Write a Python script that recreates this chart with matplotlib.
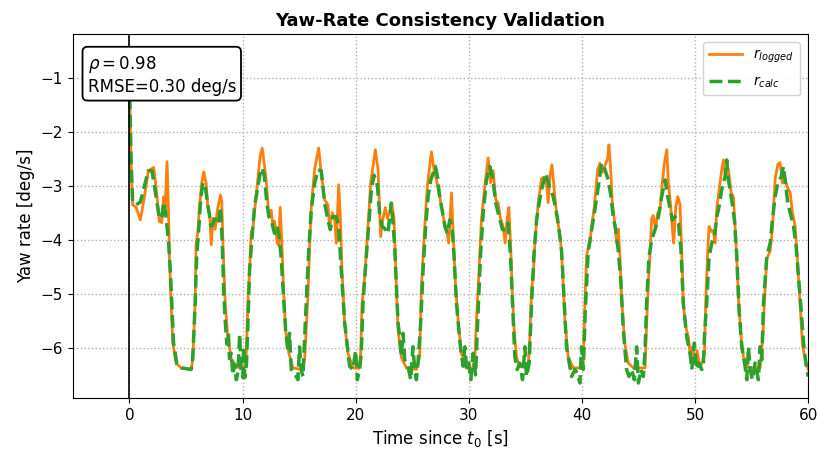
import matplotlib
matplotlib.use("Agg")
import matplotlib.pyplot as plt

# ---- data ----
t_logged = [0.0, 0.15, 0.29, 0.6, 0.97, 1.33, 1.68, 2.15, 2.36, 2.65, 2.86, 3.04, 3.16, 3.33, 3.45, 3.54,
            3.69, 3.83, 4.13, 4.57, 5.46, 5.6, 5.81, 5.9, 6.05, 6.19, 6.4, 6.58, 6.78, 6.93, 7.11, 7.23,
            7.4, 7.58, 7.82, 8.05, 8.17, 8.29, 8.47, 8.7, 9.0, 9.44, 10.03, 10.3,
            10.47, 10.62, 10.77, 10.91, 11.15, 11.36, 11.56, 11.74, 11.9, 12.09, 12.33, 12.54, 12.68, 12.8,
            12.92, 13.07, 13.21, 13.33, 13.48, 13.63, 13.81, 14.1, 14.45, 15.19, 15.49, 15.78, 15.93, 16.08,
            16.37, 16.73, 16.96, 17.26, 17.55, 17.7, 17.94, 18.14, 18.29, 18.5, 18.64, 18.79, 19.03, 19.32,
            19.76, 20.3, 20.45, 20.56, 20.8, 21.09, 21.33, 21.74, 21.98, 22.21, 22.42, 22.63, 22.8, 23.01,
            23.16, 23.39, 23.6, 23.75, 24.04, 24.48, 25.37, 25.66, 25.81, 25.96, 26.11, 26.34, 26.7, 26.93,
            27.14, 27.43, 27.73, 28.02, 28.23, 28.47, 28.64, 28.82, 29.06, 29.35, 29.8, 30.3, 30.53, 30.68,
            30.91, 31.12, 31.42, 31.71, 31.92, 32.15, 32.39, 32.59, 32.8, 33.04, 33.21, 33.39, 33.54, 33.69,
            33.83, 34.01, 34.22, 34.51, 35.25, 35.4, 35.55, 35.69, 35.84, 36.14, 36.43, 36.64, 36.87, 37.02,
            37.17, 37.35, 37.52, 37.7, 37.9, 38.11, 38.29, 38.5, 38.79, 39.23, 39.97, 40.12, 40.27, 40.41,
            40.5, 40.71, 40.86, 41.09, 41.39, 41.59, 41.8, 42.04, 42.27, 42.39, 42.57, 42.68, 42.86, 43.07,
            43.21, 43.36, 43.51, 43.66, 43.81, 44.1, 44.54, 45.58, 45.72, 45.87, 46.02, 46.17, 46.31, 46.52,
            46.7, 46.9, 47.11, 47.29, 47.5, 47.64, 47.82, 48.0, 48.11, 48.29, 48.47, 48.67, 48.82, 48.96,
            49.17, 49.41, 49.59, 49.76, 50.0, 50.18, 50.35, 50.59, 50.83, 50.94, 51.12, 51.24, 51.48, 51.62,
            51.77, 51.92, 52.21, 52.36, 52.51, 52.71, 52.95, 53.19, 53.39, 53.54, 53.69, 53.83, 54.07, 54.28,
            54.72, 55.75, 55.99, 56.19, 56.34, 56.64, 56.84, 57.08, 57.32, 57.52, 57.73, 57.9, 58.11, 58.41,
            58.61, 58.85, 59.09, 59.29, 59.5, 59.73, 60.0]
r_logged = [-1.0, -2.6, -3.35, -3.4, -3.63, -3.2, -2.72, -2.66, -3.02, -3.66, -3.68, -3.2, -3.4, -2.55, -3.39, -4.31,
            -5.17, -5.9, -6.28, -6.37, -6.4, -6.22, -5.17, -4.06, -3.87, -3.4, -2.94, -2.74, -2.95, -3.39, -3.55, -4.09,
            -3.6, -3.8, -3.4, -3.17, -3.3, -4.19, -5.17, -5.8, -6.2, -6.35, -6.38, -6.3,
            -5.19, -4.6, -3.85, -3.8, -3.3, -2.88, -2.45, -2.30, -2.55, -2.89, -3.57, -3.45, -3.76, -3.65,
            -3.76, -4.06, -4.1, -3.4, -4.06, -4.93, -5.67, -6.1, -6.37, -6.4, -6.22, -5.05, -4.13, -3.39,
            -2.70, -2.30, -2.76, -3.26, -3.35, -3.76, -3.5, -3.6, -4.06, -2.98, -3.55, -4.56, -5.54, -6.1,
            -6.37, -6.38, -6.1, -5.19, -4.68, -3.76, -2.94, -2.33, -2.7, -3.94, -3.6, -3.4, -3.6, -3.5,
            -3.31, -3.6, -4.86, -5.67, -6.17, -6.37, -6.4, -6.17, -4.9, -4.31, -3.76, -3.0, -2.37, -2.7,
            -2.89, -3.2, -3.57, -3.8, -4.06, -3.13, -4.0, -4.8, -5.5, -6.1, -6.37, -6.4, -6.22, -5.48,
            -4.56, -3.63, -3.0, -2.48, -2.94, -2.72, -3.26, -3.31, -3.6, -3.76, -4.06, -3.6, -3.4, -4.05,
            -4.9, -5.67, -6.17, -6.35, -6.35, -5.8, -4.9, -4.7, -4.06, -3.31, -2.87, -2.84, -2.94, -3.31,
            -2.82, -2.61, -3.0, -3.4, -3.7, -4.0, -4.56, -5.5, -6.17, -6.37, -6.37, -6.22, -5.17, -4.31,
            -4.2, -4.05, -3.75, -3.4, -2.7, -2.58, -2.75, -2.62, -2.5, -2.24, -2.8, -3.3, -3.6, -4.05,
            -3.8, -4.3, -5.1, -5.55, -5.95, -6.28, -6.37, -6.37, -5.55, -4.8, -4.25, -3.6, -3.55, -3.8,
            -3.5, -3.45, -2.94, -2.58, -2.33, -2.94, -3.31, -3.8, -4.06, -3.4, -3.2, -3.35, -4.2, -5.17,
            -5.6, -5.8, -6.17, -5.98, -6.28, -6.05, -6.28, -6.3, -6.1, -5.17, -4.2, -3.75, -3.85, -3.83,
            -4.06, -3.4, -2.94, -2.7, -2.52, -2.82, -2.7, -3.13, -3.2, -3.75, -4.35, -5.05, -5.8, -6.17,
            -6.37, -6.37, -5.8, -4.9, -4.35, -4.2, -3.8, -2.87, -2.6, -2.57, -2.95, -2.82, -3.0, -3.13,
            -3.5, -3.75, -4.5, -5.2, -5.95, -6.2, -6.4]

t_calc = [0.0, 0.15, 0.29, 0.6, 0.97, 1.33, 1.68, 2.0, 2.36, 2.65, 2.86, 3.04, 3.2, 3.45, 3.6, 3.75,
          3.9, 4.2, 4.6, 5.46, 5.6, 5.81, 5.95, 6.1, 6.3, 6.5, 6.7, 6.9, 7.05, 7.2, 7.4, 7.6,
          7.9, 8.05, 8.2, 8.35, 8.5, 8.62, 8.75, 8.85, 9.0, 9.15, 9.3, 9.45, 9.6, 9.75, 9.88, 10.03,
          10.1, 10.2, 10.35, 10.47, 10.62, 10.85, 11.06, 11.36, 11.56, 11.74, 11.94, 12.15, 12.33, 12.54,
          12.68, 12.83, 13.04, 13.21, 13.41, 13.57, 13.81, 14.0, 14.16, 14.31, 14.6, 14.9, 15.04, 15.19,
          15.34, 15.63, 15.85, 16.08, 16.37, 16.67, 16.96, 17.26, 17.55, 17.76, 17.99, 18.29, 18.5, 18.73,
          19.03, 19.17, 19.47, 19.76, 20.0, 20.15, 20.35, 20.5, 20.65, 20.94, 21.15, 21.39, 21.62, 21.92,
          22.12, 22.33, 22.57, 22.86, 23.01, 23.16, 23.3, 23.45, 23.6, 23.75, 23.89, 24.04, 24.19, 24.34,
          24.63, 24.87, 25.07, 25.22, 25.37, 25.51, 25.75, 25.96, 26.17, 26.4, 26.64, 26.84, 27.05, 27.23,
          27.43, 27.64, 27.88, 28.11, 28.32, 28.52, 28.7, 28.91, 29.12, 29.29, 29.5, 29.65, 29.82, 30.0,
          30.18, 30.38, 30.6, 30.83, 31.03, 31.27, 31.56, 31.86, 32.09, 32.39, 32.68, 32.98, 33.27, 33.48,
          33.69, 33.92, 34.07, 34.28, 34.51, 34.75, 34.96, 35.1, 35.34, 35.55, 35.75, 35.99, 36.22, 36.43,
          36.81, 37.11, 37.46, 37.7, 37.9, 38.2, 38.5, 38.64, 38.88, 39.09, 39.38, 39.59, 39.82, 39.97,
          40.12, 40.3, 40.56, 40.86, 41.15, 41.45, 41.74, 42.04, 42.33, 42.57, 42.77, 42.98, 43.21, 43.45,
          43.66, 43.81, 43.95, 44.16, 44.4, 44.63, 44.84, 44.99, 45.22, 45.43, 45.58, 45.72, 45.93, 46.17,
          46.46, 46.76, 47.05, 47.35, 47.58, 47.82, 48.0, 48.23, 48.53, 48.76, 48.96, 49.26, 49.56, 49.71,
          49.94, 50.15, 50.35, 50.59, 50.74, 50.83, 51.03, 51.24, 51.48, 51.71, 51.92, 52.07, 52.36, 52.65,
          52.8, 52.95, 53.24, 53.48, 53.69, 53.89, 54.13, 54.42, 54.57, 54.72, 54.87, 55.07, 55.31, 55.6,
          55.75, 55.9, 56.05, 56.34, 56.64, 56.84, 57.08, 57.32, 57.61, 57.82, 57.96, 58.2, 58.5, 58.7,
          58.91, 59.14, 59.38, 59.59, 59.79, 60.0]
r_calc = [-1.0, -2.5, -3.3, -3.35, -3.3, -3.0, -2.72, -2.72, -3.2, -3.6, -3.6, -3.3, -3.5, -4.0, -4.5, -5.17,
          -5.9, -6.3, -6.37, -6.4, -6.2, -5.2, -4.3, -3.9, -3.25, -2.94, -3.0, -3.3, -3.5, -3.75, -3.7, -3.55,
          -3.65, -3.4, -4.0, -5.0, -5.6, -5.93, -5.72, -6.2, -6.1, -6.5, -6.3, -6.59, -6.45, -5.75, -6.4, -6.55,
          -5.98, -6.55, -6.3, -5.6, -4.56, -3.94, -3.38, -3.01, -2.77, -2.67, -2.83, -3.32, -3.57, -3.63,
          -3.75, -3.88, -3.75, -3.88, -4.31, -4.86, -5.67, -6.04, -5.73, -6.4, -6.47, -6.59, -5.98, -6.4,
          -6.53, -5.17, -4.2, -3.44, -2.96, -2.7, -2.72, -3.32, -3.63, -3.81, -3.57, -3.57, -3.75, -4.56,
          -5.54, -5.79, -6.34, -6.4, -6.05, -6.59, -6.4, -6.1, -5.17, -4.31, -3.75, -3.07, -2.8, -2.99,
          -3.51, -3.75, -3.79, -3.88, -3.57, -3.32, -3.69, -4.12, -4.86, -5.54, -5.79, -6.16, -5.73, -6.22,
          -6.34, -6.59, -5.98, -6.4, -6.59, -6.28, -5.54, -4.56, -3.81, -3.2, -2.89, -2.77, -2.64, -2.83,
          -3.2, -3.44, -3.75, -3.88, -3.63, -3.75, -4.31, -5.17, -5.67, -6.04, -6.34, -5.98, -6.4, -6.28,
          -6.59, -6.1, -6.5, -5.3, -4.31, -3.51, -2.89, -2.64, -2.83, -3.32, -3.57, -3.81, -3.81, -3.69,
          -4.31, -5.42, -6.16, -6.4, -6.28, -6.59, -5.98, -6.53, -6.28, -5.17, -4.31, -3.63, -3.32, -3.07,
          -2.77, -3.01, -3.2, -3.44, -3.69, -4.19, -5.42, -5.98, -6.28, -6.53, -6.4, -6.47, -6.65, -5.98,
          -6.4, -5.3, -4.2, -3.81, -3.44, -3.01, -2.58, -2.7, -2.89, -3.2, -3.57, -3.81, -4.19, -4.8,
          -5.67, -6.04, -6.4, -6.53, -6.4, -6.59, -5.98, -6.65, -6.4, -6.53, -6.04, -5.17, -4.31, -4.0,
          -3.81, -3.57, -3.2, -2.89, -3.2, -3.44, -3.63, -3.57, -3.69, -4.19, -5.17, -5.79, -6.1, -6.4,
          -5.91, -6.4, -6.28, -6.4, -6.28, -5.79, -5.17, -4.31, -4.06, -3.94, -3.57, -3.44, -3.07, -2.83,
          -2.52, -2.89, -3.26, -3.63, -4.31, -5.3, -5.98, -6.34, -6.59, -5.98, -6.4, -6.59, -6.28, -6.59,
          -5.98, -6.22, -5.17, -4.31, -4.06, -3.63, -3.2, -2.95, -2.83, -2.64, -2.89, -3.32, -3.57, -3.75,
          -4.06, -4.68, -5.3, -5.91, -6.28, -6.53]

rho_text = r"$\rho = 0.98$"
rmse_text = "RMSE=0.30 deg/s"
x_ticks = [0, 10, 20, 30, 40, 50, 60]
y_ticks = [-1, -2, -3, -4, -5, -6]

fig = plt.figure(figsize=(8.18, 4.55), dpi=100)
ax = fig.add_axes([0.089, 0.125, 0.899, 0.8])

ax.plot(t_logged, r_logged, color="#ff7f0e", lw=2.0, label=r"$r_{logged}$")
ax.plot(t_calc, r_calc, color="#2ca02c", lw=2.5, ls="--", label=r"$r_{calc}$")
ax.axvline(0, color="black", lw=1.2)

ax.set_xlim(-5, 60)
ax.set_ylim(-6.93, -0.19)
ax.set_xticks(x_ticks)
ax.set_yticks(y_ticks)
ax.tick_params(labelsize=11)
ax.grid(True, linestyle=":", color="#b0b0b0", lw=1.0)

ax.set_title("Yaw-Rate Consistency Validation", fontsize=13, fontweight="bold")
ax.set_xlabel(r"Time since $t_0$ [s]", fontsize=12)
ax.set_ylabel("Yaw rate [deg/s]", fontsize=12)

ax.legend(loc="upper right", fontsize=10, framealpha=0.9, handlelength=2.4,
          labelspacing=0.65, borderaxespad=0.6)
ax.text(0.02, 0.946, rho_text + "\n" + rmse_text, transform=ax.transAxes,
        fontsize=12, va="top", ha="left", zorder=10,
        bbox=dict(boxstyle="round,pad=0.3", facecolor="white", edgecolor="black", lw=1.3))

fig.savefig("out.png", dpi=100)
